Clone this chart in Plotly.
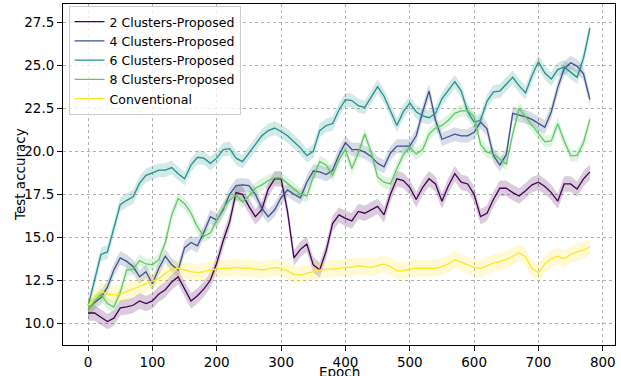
import plotly.graph_objects as go

epochs = list(range(0, 790, 10))

c2 = [10.6, 10.6, 10.35, 10.1, 10.3, 10.9, 10.95, 11.05, 11.3, 11.15,
      11.3, 11.7, 11.95, 12.4, 12.7, 12.0, 11.3, 11.6, 12.0, 12.5,
      13.5, 14.8, 15.9, 17.6, 17.5, 16.8, 16.2, 16.6, 17.8, 18.4,
      18.4, 16.5, 13.8, 14.3, 14.6, 13.4, 13.1, 14.2, 15.8, 16.3,
      16.1, 15.95, 16.5, 16.4, 16.6, 16.8, 16.3, 17.5, 18.4, 18.3,
      17.9, 17.2, 17.9, 18.4, 18.1, 17.1, 18.0, 18.7, 18.2, 18.1,
      17.5, 16.2, 16.4, 17.2, 17.85, 17.85, 17.6, 17.4, 17.7, 18.05,
      18.2, 17.95, 17.6, 17.1, 18.1, 18.1, 17.8, 18.4, 18.8]

c4 = [10.8, 11.2, 11.5, 12.1, 13.1, 13.8, 13.6, 13.3, 12.7, 13.0,
      12.3, 13.2, 13.9, 13.4, 13.1, 14.4, 14.7, 14.5, 15.3, 16.2,
      16.0, 16.6, 17.5, 18.0, 18.05, 18.0, 17.5, 16.7, 16.2, 16.6,
      17.3, 17.75, 17.5, 17.3, 18.2, 18.85, 18.8, 18.65, 18.9, 19.8,
      20.5, 20.1, 20.1, 19.95, 19.7, 19.3, 19.1, 19.9, 20.3, 20.3,
      20.3, 20.9, 22.3, 23.5, 21.8, 20.7, 20.85, 21.0, 20.9, 20.9,
      21.1, 21.7, 21.3, 19.75, 19.2, 19.8, 22.2, 22.1, 22.0, 21.85,
      21.6, 21.4, 22.3, 23.7, 24.8, 25.15, 24.95, 24.5, 23.0]

c6 = [11.0, 12.5, 14.0, 14.15, 15.5, 16.9, 17.15, 17.35, 18.15, 18.6,
      18.75, 18.9, 18.9, 19.05, 18.7, 18.4, 19.2, 19.65, 19.6, 19.3,
      19.6, 20.1, 20.15, 19.6, 19.4, 19.9, 20.4, 20.9, 21.2, 21.35,
      21.15, 20.9, 20.55, 20.2, 19.75, 20.0, 21.2, 21.5, 21.6, 22.4,
      23.0, 22.95, 22.65, 22.55, 23.15, 23.75, 23.2, 22.3, 21.5, 22.3,
      22.8, 22.3, 22.05, 21.95, 22.2, 23.05, 23.55, 24.05, 23.5, 22.3,
      21.7, 21.8, 22.9, 23.45, 23.5, 23.9, 24.3, 23.8, 23.4, 24.4,
      25.2, 24.55, 24.2, 24.75, 24.9, 24.6, 24.3, 25.4, 27.15]

c8 = [10.75, 11.3, 11.7, 11.15, 10.95, 11.8, 13.1, 13.15, 13.65, 13.45,
      13.4, 13.7, 14.7, 16.3, 17.25, 16.95, 16.4, 15.6, 15.05, 15.25,
      16.0, 16.7, 17.15, 17.45, 17.05, 17.4, 17.85, 18.05, 18.3, 18.45,
      18.45, 18.15, 17.8, 17.5, 17.4, 18.5, 19.4, 19.2, 18.6, 19.5,
      20.1, 19.0, 19.9, 21.0, 19.95, 18.5, 18.2, 18.1, 19.0, 19.8,
      20.25, 19.85, 20.1, 21.0, 21.35, 21.5, 21.8, 22.2, 22.35, 22.35,
      22.0, 20.4, 19.95, 19.85, 19.55, 19.25, 21.0, 22.5, 22.0, 21.5,
      21.0, 20.55, 20.6, 21.6, 20.6, 19.75, 19.75, 20.5, 21.85]

conv = [11.05, 11.45, 11.85, 11.7, 11.65, 11.7, 11.85, 12.0, 12.15, 12.3,
        12.45, 12.6, 12.9, 13.15, 13.2, 13.1, 13.0, 12.95, 13.0, 13.1,
        13.15, 13.2, 13.2, 13.25, 13.2, 13.2, 13.15, 13.1, 13.15, 13.25,
        13.2, 13.05, 12.85, 12.8, 12.9, 13.0, 13.1, 13.15, 13.15, 13.2,
        13.25, 13.25, 13.35, 13.3, 13.25, 13.35, 13.45, 13.3, 13.05, 13.05,
        13.15, 13.2, 13.2, 13.2, 13.2, 13.3, 13.45, 13.7, 13.55, 13.4,
        13.25, 13.2, 13.35, 13.5, 13.6, 13.7, 13.9, 14.1, 13.85, 13.2,
        12.95, 13.45, 13.75, 13.9, 13.75, 14.0, 14.15, 14.25, 14.45]

names = ["2 Clusters-Proposed", "4 Clusters-Proposed", "6 Clusters-Proposed",
         "8 Clusters-Proposed", "Conventional"]
band_halfwidth = [0.45, 0.4, 0.4, 0.35, 0.5]

series = [c2, c4, c6, c8, conv]
colors = ["#440154", "#3b528b", "#21918c", "#5ec962", "#fde725"]
fills = ["rgba(68,1,84,0.2)", "rgba(59,82,139,0.2)", "rgba(33,145,140,0.2)",
         "rgba(94,201,98,0.2)", "rgba(253,231,37,0.2)"]

fig = go.Figure()
for ys, name, col, fc, hw in zip(series, names, colors, fills, band_halfwidth):
    upper = [v + hw for v in ys]
    lower = [v - hw for v in ys]
    fig.add_trace(go.Scatter(x=epochs + epochs[::-1], y=upper + lower[::-1],
                             fill="toself", fillcolor=fc, line=dict(width=0),
                             mode="lines", showlegend=False, hoverinfo="skip"))
for ys, name, col in zip(series, names, colors):
    fig.add_trace(go.Scatter(x=epochs, y=ys, mode="lines", name=name,
                             line=dict(color=col, width=1.3)))

axis_common = dict(showline=True, linecolor="black", linewidth=1, mirror=True,
                   ticks="outside", ticklen=5, tickcolor="black",
                   showgrid=True, gridcolor="#b0b0b0", griddash="dot",
                   gridwidth=1, zeroline=False, automargin=False,
                   tickfont=dict(family="DejaVu Sans", size=13.5, color="black"))

fig.update_layout(
    width=621, height=376,
    margin=dict(l=63, r=6, t=4, b=31),
    paper_bgcolor="white", plot_bgcolor="white",
    font=dict(family="DejaVu Sans", color="black"),
    xaxis=dict(range=[-39, 819], tickmode="array",
               tickvals=[0, 100, 200, 300, 400, 500, 600, 700, 800],
               **axis_common),
    yaxis=dict(range=[8.74, 28.56], tickmode="array",
               tickvals=[10, 12.5, 15, 17.5, 20, 22.5, 25, 27.5],
               tickformat=".1f",
               **axis_common),
    legend=dict(x=0.01, y=0.994, xanchor="left", yanchor="top",
                bgcolor="rgba(255,255,255,0.8)", bordercolor="#cccccc",
                borderwidth=1, font=dict(size=12.5, family="DejaVu Sans"),
                tracegroupgap=0, itemwidth=30),
    showlegend=True,
    annotations=[
        dict(text="Epoch", xref="paper", yref="paper", x=0.5, y=-0.0499,
             xanchor="center", yanchor="top", showarrow=False,
             font=dict(size=13.5, family="DejaVu Sans", color="black")),
        dict(text="Test accuracy", xref="paper", yref="paper", x=-0.0788, y=0.5,
             xanchor="center", yanchor="middle", textangle=-90, showarrow=False,
             font=dict(size=13.5, family="DejaVu Sans", color="black")),
    ],
)

fig.write_html("out.html", config={"displayModeBar": False},
               post_script="document.body.style.margin='0px';")
